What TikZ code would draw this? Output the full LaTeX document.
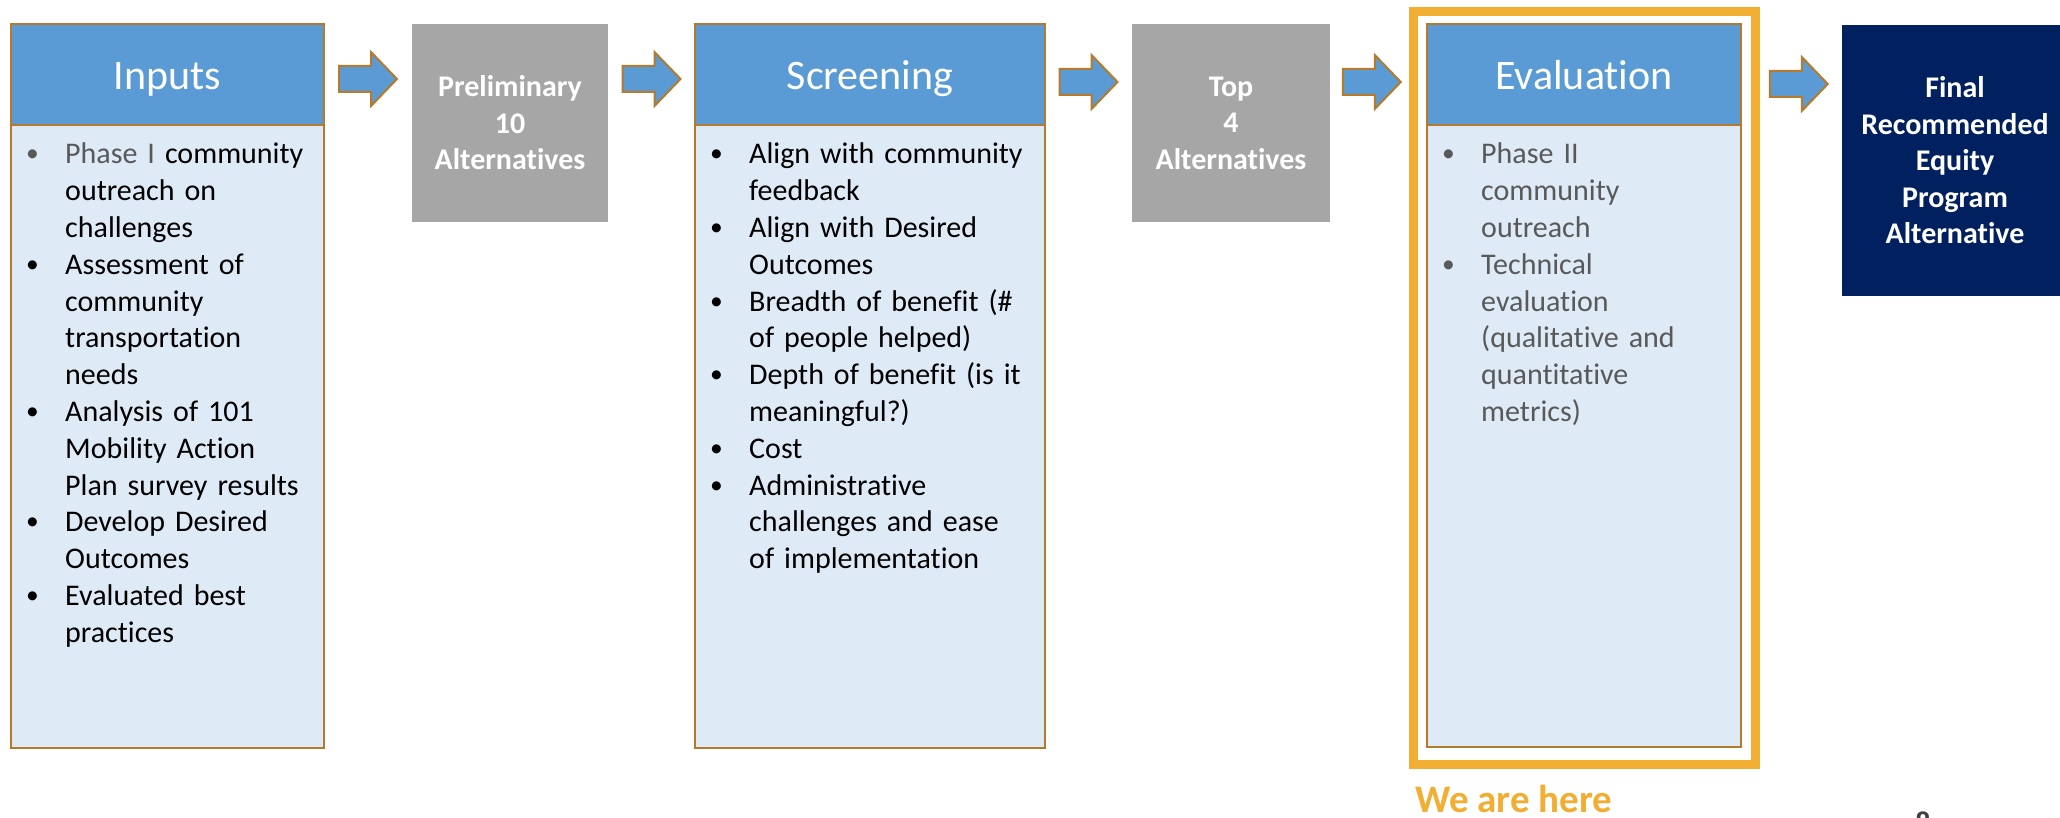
\documentclass[tikz,border=0pt]{standalone}
\usepackage{fontspec}
\setmainfont{Carlito}[Ligatures=NoCommon]
\usetikzlibrary{calc}

\definecolor{headblue}{HTML}{5B9BD5}
\definecolor{paleblue}{HTML}{DEEBF7}
\definecolor{boxedge}{HTML}{B57A2C}
\definecolor{stepgray}{HTML}{A6A6A6}
\definecolor{navy}{HTML}{002060}
\definecolor{hereorange}{HTML}{F2AE32}
\definecolor{textgray}{HTML}{595959}

\newcommand{\flowitem}[2][black]{\noindent\hangindent=40pt\hangafter=1%
  \makebox[40pt][l]{\hspace{1pt}\color{#1}\raisebox{2pt}{\scalebox{0.85}{\textbullet}}}#2\par}

\begin{document}
\begin{tikzpicture}[x=1pt,y=-1pt,
    headbox/.style={draw=boxedge,line width=2pt,fill=headblue,text=white,anchor=north west,
      outer sep=0pt,inner sep=0pt,text height=32pt,text depth=2pt,
      font=\fontsize{42}{50}\selectfont},
    bodybox/.style={draw=boxedge,line width=2pt,fill=paleblue,anchor=north west,outer sep=0pt},
    bodytext/.style={anchor=base west,inner sep=0pt,align=left,
      font=\fontsize{30}{36.8}\selectfont},
    stepbox/.style={fill=stepgray,text=white,anchor=north west,outer sep=0pt,inner sep=0pt,
      align=center,font=\bfseries\fontsize{30}{36.5}\selectfont},
    finalbox/.style={stepbox,fill=navy,draw=navy,line width=1pt},
    hereframe/.style={draw=hereorange,line width=9pt,anchor=north west,outer sep=0pt},
    pics/flowarrow/.style={code={
      \draw[boxedge,line width=2pt,fill=headblue]
        (-29,-13) -- (3,-13) -- (3,-27) -- (29,0) -- (3,27) -- (3,13) -- (-29,13) -- cycle;}}]
  \fill[white] (0,0) rectangle (2060,818);
  \useasboundingbox (0,0) rectangle (2060,818);

  \node[bodybox,minimum width=313,minimum height=623] (inbody) at (11,125) {};
  \node[headbox,minimum width=313,minimum height=101] (inhead) at (11,24) {Inputs};
  \node[bodytext,text width=295] (intext) at ([xshift=14pt,yshift=-39pt]inbody.north west) {%
    \flowitem[textgray]{\textcolor{textgray}{Phase I} community\newline outreach on\newline challenges}
    \flowitem{Assessment of\newline community\newline transportation\newline needs}
    \flowitem{Analysis of 101\newline Mobility Action\newline Plan survey results}
    \flowitem{Develop Desired\newline Outcomes}
    \flowitem{Evaluated best\newline practices}};

  \node[stepbox,minimum width=196,minimum height=198] (prelim) at (412,24) {Preliminary\\10\\Alternatives};

  \node[bodybox,minimum width=350,minimum height=623] (scrbody) at (695,125) {};
  \node[headbox,minimum width=350,minimum height=101] (scrhead) at (695,24) {Screening};
  \node[bodytext,text width=332] (scrtext) at ([xshift=14pt,yshift=-39pt]scrbody.north west) {%
    \flowitem{Align with community\newline feedback}
    \flowitem{Align with Desired\newline Outcomes}
    \flowitem{Breadth of benefit (\#\newline of people helped)}
    \flowitem{Depth of benefit (is it\newline meaningful?)}
    \flowitem{Cost}
    \flowitem{Administrative\newline challenges and ease\newline of implementation}};

  \node[stepbox,minimum width=198,minimum height=198] (top) at (1132,24) {Top\\4\\Alternatives};

  \node[hereframe,minimum width=342,minimum height=753] (here) at (1413.5,11.5) {};
  \node[bodybox,minimum width=314,minimum height=622] (evbody) at (1427,125) {};
  \node[headbox,minimum width=314,minimum height=101] (evhead) at (1427,24) {Evaluation};
  \node[bodytext,text width=296,text=textgray] (evtext) at ([xshift=14pt,yshift=-39pt]evbody.north west) {%
    \flowitem[textgray]{Phase II\newline community\newline outreach}
    \flowitem[textgray]{Technical\newline evaluation\newline (qualitative and\newline quantitative\newline metrics)}};

  \node[finalbox,minimum width=226,minimum height=269] (final) at (1842,26)
    {Final\\Recommended\\Equity\\Program\\Alternative};

  \node[anchor=base west,inner sep=0pt,text=hereorange,font=\bfseries\fontsize{39}{46}\selectfont]
    (herelabel) at (1415,812) {We are here};
  \node[anchor=base,inner sep=0pt,text=black!75,font=\bfseries\fontsize{30}{36}\selectfont]
    (pagenum) at (1923,832) {8};

  \pic at ($(inhead.east)!.5!(prelim.west |- inhead.east)+(0,4.5)$) {flowarrow};
  \pic at ($(prelim.east |- scrhead.west)!.5!(scrhead.west)+(0,4.5)$) {flowarrow};
  \pic at ($(scrhead.east)!.5!(top.west |- scrhead.east)+(0,7.5)$) {flowarrow};
  \pic at ($(top.east |- evhead.east)!.5!(here.west |- evhead.east)+(0,7.5)$) {flowarrow};
  \pic at ($(here.east |- evhead.east)!.5!(final.west |- evhead.east)+(0,9.5)$) {flowarrow};
\end{tikzpicture}
\end{document}
